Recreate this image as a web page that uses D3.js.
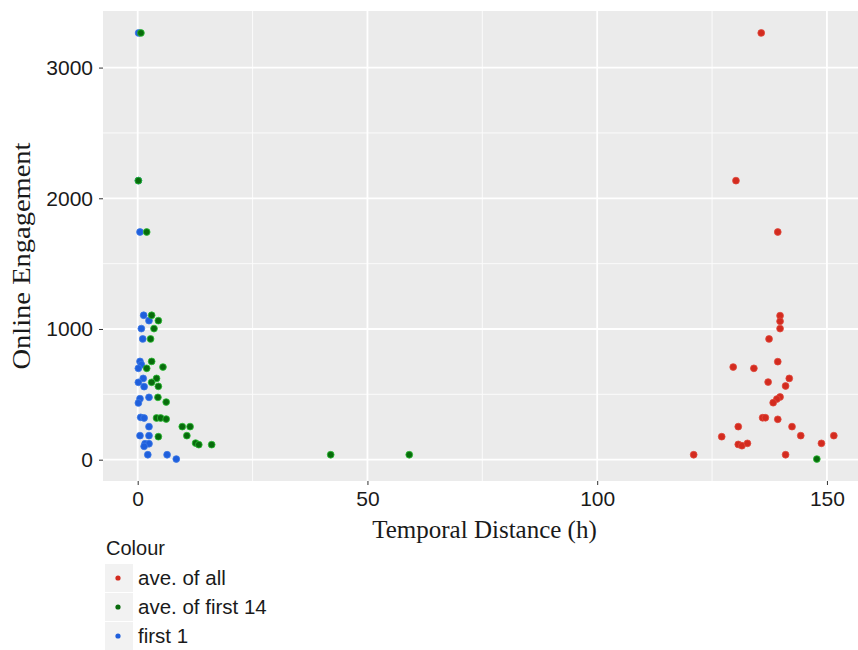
<!DOCTYPE html>
<html>
<head>
<meta charset="utf-8">
<script src="https://cdn.jsdelivr.net/npm/d3@7"></script>
<style>
  html, body { margin: 0; padding: 0; background: #ffffff; }
  svg { display: block; }
</style>
</head>
<body>
<svg id="chart" width="858" height="650"></svg>
<script>
// ---------------- data ----------------
const seriesNames = ["ave. of all", "ave. of first 14", "first 1"];

const allX = [135.7,130.2,139.3,139.8,139.8,139.8,137.4,139.3,129.6,134.1,141.8,137.2,141.0,139.8,139.1,138.3,136.0,136.6,139.3,130.7,142.4,127.1,144.3,151.5,130.7,131.5,132.7,148.8,121.0,141.0];
const allY = [3265,2135,1742,1102,1059,1003,924,750,709,699,622,594,564,480,464,436,321,321,309,253,253,176,184,184,117,107,125,125,38,38];

const first1X = [0.2,0.15,0.5,1.3,2.46,0.8,1.1,0.5,0.8,0.15,1.2,0.15,1.4,0.5,2.46,0.15,0.65,1.4,2.46,0.5,2.46,1.6,2.46,1.4,2.2,6.4,8.4];
const first1Y = [3265,2135,1742,1105,1064,1003,924,752,727,699,622,592,559,467,477,434,324,319,253,184,184,122,122,102,38,38,5];

const first14X = [0.7,0.15,1.96,3.04,4.5,3.55,2.8,3.04,5.5,1.96,4.1,3.04,4.5,4.4,6.2,4.1,5.0,6.2,9.7,11.4,4.5,10.7,12.6,13.3,16.1,42.0,59.1,147.8];
const first14Y = [3265,2135,1742,1105,1064,1003,924,752,709,699,622,592,561,477,441,319,319,311,253,253,176,184,127,115,115,38,38,5];

const xTicks = [0, 50, 100, 150];
const yTicks = [0, 1000, 2000, 3000];
const xMinor = [25, 75, 125];
const yMinor = [500, 1500, 2500];

// ---------------- layout ----------------
const svg = d3.select("#chart");
const panel = { left: 103, right: 866, top: 11, bottom: 481 };

const x = d3.scaleLinear().domain([-7.55, 158.5]).range([panel.left, panel.right]);
const y = d3.scaleLinear().domain([-163, 3433]).range([panel.bottom, panel.top]);

const colors = { "ave. of all": "#d32b1f", "ave. of first 14": "#086b0c", "first 1": "#1f5fdc" };
const strokes = { "ave. of all": "#e0493c", "ave. of first 14": "#2bbf34", "first 1": "#3b78e6" };

// panel background
svg.append("rect")
  .attr("x", panel.left).attr("y", panel.top)
  .attr("width", panel.right - panel.left).attr("height", panel.bottom - panel.top)
  .attr("fill", "#ebebeb");

const grid = svg.append("g");
grid.selectAll(".xminor").data(xMinor).join("line")
  .attr("x1", d => x(d)).attr("x2", d => x(d))
  .attr("y1", panel.top).attr("y2", panel.bottom)
  .attr("stroke", "#fbfbfb").attr("stroke-width", 1);
grid.selectAll(".yminor").data(yMinor).join("line")
  .attr("y1", d => y(d)).attr("y2", d => y(d))
  .attr("x1", panel.left).attr("x2", panel.right)
  .attr("stroke", "#fbfbfb").attr("stroke-width", 1);
grid.selectAll(".xmajor").data(xTicks).join("line")
  .attr("x1", d => x(d)).attr("x2", d => x(d))
  .attr("y1", panel.top).attr("y2", panel.bottom)
  .attr("stroke", "#ffffff").attr("stroke-width", 1.8);
grid.selectAll(".ymajor").data(yTicks).join("line")
  .attr("y1", d => y(d)).attr("y2", d => y(d))
  .attr("x1", panel.left).attr("x2", panel.right)
  .attr("stroke", "#ffffff").attr("stroke-width", 1.8);

// axes
const xAxis = d3.axisBottom(x).tickValues(xTicks).tickSize(4).tickPadding(6).tickFormat(d3.format("d"));
const yAxis = d3.axisLeft(y).tickValues(yTicks).tickSize(4).tickPadding(6).tickFormat(d3.format("d"));

const gx = svg.append("g").attr("transform", `translate(0,${panel.bottom})`).call(xAxis);
const gy = svg.append("g").attr("transform", `translate(${panel.left},0)`).call(yAxis);
[gx, gy].forEach(g => {
  g.select(".domain").remove();
  g.selectAll(".tick line").attr("stroke", "#333333").attr("stroke-width", 1);
  g.selectAll(".tick text")
    .attr("fill", "#1a1a1a")
    .style("font-family", "'Liberation Sans', Arial, Helvetica, sans-serif")
    .style("font-size", "21px");
});
gx.selectAll(".tick text").attr("dy", "0.72em");

// points
const series = [
  { name: "ave. of all", xs: allX, ys: allY },
  { name: "first 1", xs: first1X, ys: first1Y },
  { name: "ave. of first 14", xs: first14X, ys: first14Y }
];
const pts = svg.append("g");
series.forEach(s => {
  const data = s.xs.map((v, i) => [v, s.ys[i]]);
  pts.append("g").selectAll("circle").data(data).join("circle")
    .attr("cx", d => x(d[0])).attr("cy", d => y(d[1]))
    .attr("r", 3.4)
    .attr("fill", colors[s.name])
    .attr("stroke", strokes[s.name]).attr("stroke-width", 0.8);
});

// axis titles
svg.append("text")
  .attr("x", (panel.left + panel.right) / 2).attr("y", 538)
  .attr("text-anchor", "middle")
  .style("font-family", "'Liberation Serif', 'Times New Roman', Times, serif")
  .style("font-size", "25px").attr("fill", "#1a1a1a")
  .text("Temporal Distance (h)");

svg.append("text")
  .attr("transform", `translate(30,${(panel.top + panel.bottom) / 2 + 10}) rotate(-90) scale(1.14,1)`)
  .attr("text-anchor", "middle")
  .style("font-family", "'Liberation Serif', 'Times New Roman', Times, serif")
  .style("font-size", "25px").attr("fill", "#1a1a1a")
  .text("Online Engagement");

// legend
const lg = svg.append("g");
lg.append("text").attr("x", 106).attr("y", 555)
  .style("font-family", "'Liberation Sans', Arial, Helvetica, sans-serif")
  .style("font-size", "20px").attr("fill", "#1a1a1a")
  .text("Colour");
const rowY = [578, 607, 636];
const rows = lg.selectAll(".row").data(seriesNames).join("g")
  .attr("transform", (d, i) => `translate(0,${rowY[i]})`);
rows.append("rect").attr("x", 105).attr("y", -14).attr("width", 28).attr("height", 28)
  .attr("fill", "#f2f2f2");
rows.append("circle").attr("cx", 118).attr("cy", 0).attr("r", 2.6)
  .attr("fill", d => colors[d]);
rows.append("text").attr("x", 138).attr("y", 7)
  .style("font-family", "'Liberation Sans', Arial, Helvetica, sans-serif")
  .style("font-size", "20.5px").attr("fill", "#1a1a1a")
  .text(d => d);
</script>
</body>
</html>
